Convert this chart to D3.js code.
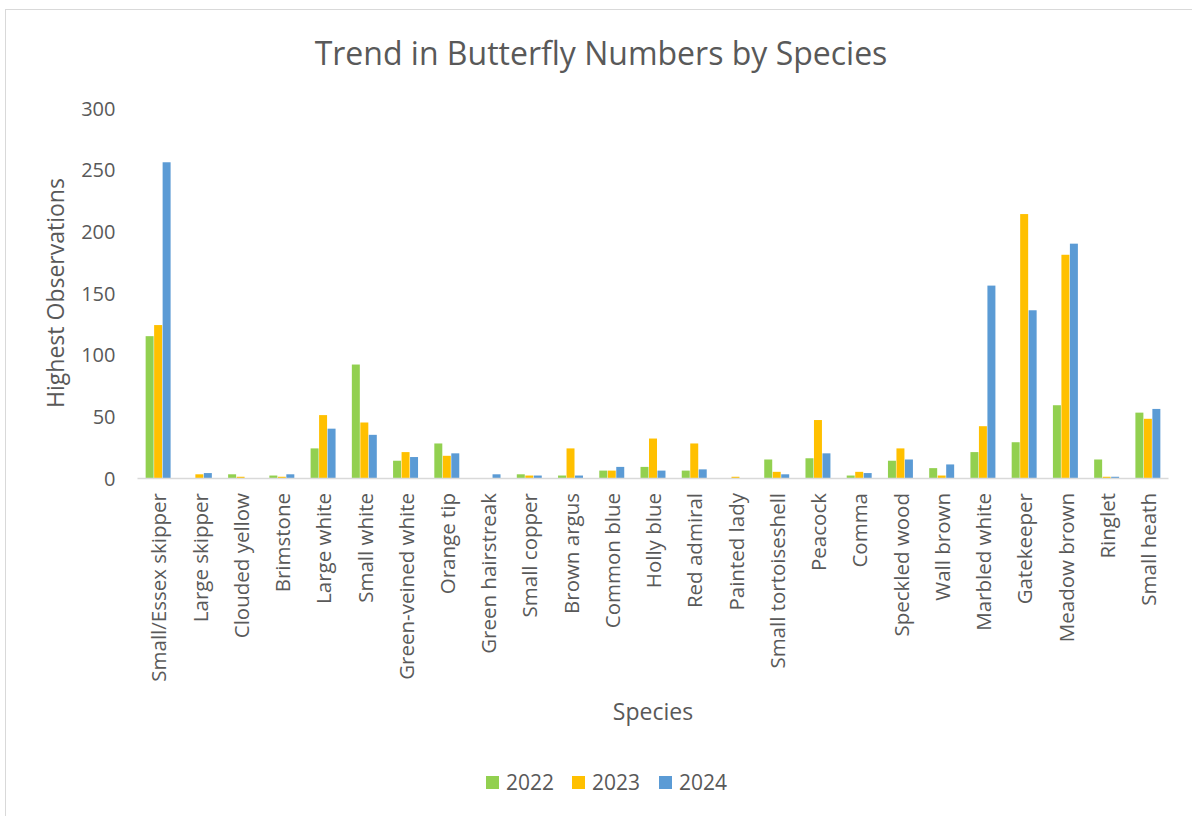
<!DOCTYPE html>
<html>
<head>
<meta charset="utf-8">
<script src="https://cdn.jsdelivr.net/npm/d3@7"></script>
<style>
  body { margin: 0; background: #fff; }
  text { font-family: "Open Sans", "Noto Sans", sans-serif; fill: #595959; }
</style>
</head>
<body>
<svg id="chart"></svg>
<script>
var species = ["Small/Essex skipper", "Large skipper", "Clouded yellow", "Brimstone", "Large white",
  "Small white", "Green-veined white", "Orange tip", "Green hairstreak", "Small copper",
  "Brown argus", "Common blue", "Holly blue", "Red admiral", "Painted lady",
  "Small tortoiseshell", "Peacock", "Comma", "Speckled wood", "Wall brown",
  "Marbled white", "Gatekeeper", "Meadow brown", "Ringlet", "Small heath"];
var years = ["2022", "2023", "2024"];
var obs2022 = [115, 0, 3, 2, 24, 92, 14, 28, 0, 3, 2, 6, 9, 6, 0, 15, 16, 2, 14, 8, 21, 29, 59, 15, 53];
var obs2023 = [124, 3, 1, 1, 51, 45, 21, 18, 0, 2, 24, 6, 32, 28, 1, 5, 47, 5, 24, 2, 42, 214, 181, 1, 48];
var obs2024 = [256, 4, 0, 3, 40, 35, 17, 20, 3, 2, 2, 9, 6, 7, 0, 3, 20, 4, 15, 11, 156, 136, 190, 1, 56];
var yTicks = [0, 50, 100, 150, 200, 250, 300];
var colors = ["#92d050", "#ffc000", "#5b9bd5"];

var width = 1192, height = 816;
var margin = { left: 137.5, right: 23.5, top: 108, bottom: 338 };

var svg = d3.select("#chart").attr("width", width).attr("height", height);

// chart frame
svg.append("rect")
   .attr("x", 5.5).attr("y", 9.5)
   .attr("width", 1190).attr("height", 820)
   .attr("fill", "none").attr("stroke", "#d9d9d9").attr("stroke-width", 1);

var series = [obs2022, obs2023, obs2024];
var rows = species.map(function(s, i) {
  return { name: s, values: series.map(function(v) { return v[i]; }) };
});

var x = d3.scaleBand().domain(species)
          .range([margin.left, width - margin.right])
          .paddingInner(0.37).paddingOuter(0.185);
var x1 = d3.scaleBand().domain(years).range([0, x.bandwidth()]).padding(0.06);
var y = d3.scaleLinear().domain([0, 300]).range([height - margin.bottom, margin.top]);

// title
svg.append("text")
   .attr("x", 601).attr("y", 65)
   .attr("text-anchor", "middle")
   .style("font-size", "32px")
   .text("Trend in Butterfly Numbers by Species");

// y axis labels
var yAxis = d3.axisLeft(y).tickValues(yTicks).tickSize(0).tickPadding(22);
var yg = svg.append("g").attr("transform", "translate(" + margin.left + ",0)").call(yAxis);
yg.select(".domain").remove();
yg.selectAll("text").style("font-size", "20px").attr("fill", "#595959").attr("dy", "0.35em");

// bars
var groups = svg.selectAll(".grp").data(rows).enter().append("g")
   .attr("class", "grp")
   .attr("transform", function(d) { return "translate(" + x(d.name) + ",0)"; });

groups.selectAll("rect")
   .data(function(d) { return d.values.map(function(v, j) { return { year: years[j], value: v, idx: j }; }); })
   .enter().append("rect")
   .attr("x", function(d) { return x1(d.year); })
   .attr("y", function(d) { return y(d.value); })
   .attr("width", x1.bandwidth())
   .attr("height", function(d) { return y(0) - y(d.value); })
   .attr("fill", function(d) { return colors[d.idx]; });

// x axis
var xAxis = d3.axisBottom(x).tickSize(0).tickPadding(0);
var xg = svg.append("g").attr("transform", "translate(0," + y(0) + ")").call(xAxis);
xg.select(".domain").attr("stroke", "#d9d9d9").attr("stroke-width", 1.5)
  .attr("d", "M" + margin.left + ",0.5H" + (width - margin.right));
xg.selectAll("text")
  .style("font-size", "20.5px").attr("fill", "#595959")
  .attr("text-anchor", "end")
  .attr("dy", "0.35em")
  .attr("transform", "translate(1,15) rotate(-90)")
  .attr("x", 0).attr("y", 0);

// axis titles
svg.append("text")
   .attr("transform", "translate(64," + 293 + ") rotate(-90)")
   .attr("text-anchor", "middle")
   .style("font-size", "23px")
   .text("Highest Observations");

svg.append("text")
   .attr("x", 653).attr("y", 720)
   .attr("text-anchor", "middle")
   .style("font-size", "23px")
   .text("Species");

// legend
var legX = [486, 572, 659];
var leg = svg.selectAll(".leg").data(years).enter().append("g")
   .attr("class", "leg")
   .attr("transform", function(d, i) { return "translate(" + legX[i] + ",776)"; });
leg.append("rect").attr("width", 13).attr("height", 13)
   .attr("fill", function(d, i) { return colors[i]; });
leg.append("text").attr("x", 20).attr("y", 6.5).attr("dy", "0.35em")
   .style("font-size", "21px").text(function(d) { return d; });
</script>
</body>
</html>
